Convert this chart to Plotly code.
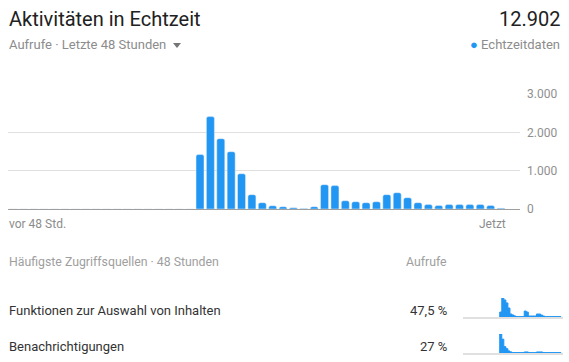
import plotly.graph_objects as go

# ---------------- data ----------------
hours = list(range(48))  # 48 hourly slots, oldest -> now
views = [0] * 18 + [1420, 2410, 1835, 1495, 920, 375, 165, 85, 60, 35, 15, 60,
                    635, 610, 215, 190, 165, 190, 375, 425, 295, 165, 115, 90,
                    115, 115, 115, 115, 90, 20]
total_label = "12.902"
y_ticks = [0, 1000, 2000, 3000]

source_names = ["Funktionen zur Auswahl von Inhalten", "Benachrichtigungen"]
source_shares = ["47,5 %", "27 %"]
spark_content = [0] * 18 + [300, 1150, 1030, 850, 545, 180, 120, 60, 20, 20, 20, 20,
                            360, 300, 60, 60, 60, 60, 180, 180, 120, 60, 20, 20,
                            20, 20, 20, 20, 20, 20]
spark_notif = [0] * 18 + [1100, 800, 370, 250, 120, 60, 20, 20, 20, 20, 20, 20,
                          60, 60, 20, 20, 20, 20, 60, 60, 60, 20, 20, 20,
                          20, 20, 20, 20, 20, 20]
sparks = [spark_content, spark_notif]

# ---------------- layout helpers ----------------
W, H = 569, 362
def fx(px): return px / W
def fy(py): return 1 - py / H

BLUE = "#2196f3"
FONT = "Roboto"

fig = go.Figure()

fig.add_trace(go.Bar(x=hours, y=views, width=0.77, marker=dict(color=BLUE, cornerradius=2),
                     xaxis="x", yaxis="y", hoverinfo="skip"))

spark_rows = [(317, 298), (353, 334)]
for i, (vals, (base, top)) in enumerate(zip(sparks, spark_rows)):
    k = i + 2
    fig.add_trace(go.Bar(x=hours, y=[v if v > 0 else None for v in vals], width=1,
                         marker=dict(color=BLUE, line=dict(color=BLUE, width=1)),
                         xaxis=f"x{k}", yaxis=f"y{k}", hoverinfo="skip"))

layout = dict(
    width=W, height=H, margin=dict(l=0, r=0, t=0, b=0, pad=0, autoexpand=False),
    paper_bgcolor="white", plot_bgcolor="rgba(0,0,0,0)",
    showlegend=False, separators=",.",
    font=dict(family=FONT, color="#212121"),
    xaxis=dict(domain=[fx(8), fx(520)], range=[-0.5, 48.83], showgrid=False,
               showline=True, linecolor="#9e9e9e", linewidth=1, showticklabels=False,
               ticks="", zeroline=False, fixedrange=True),
    yaxis=dict(domain=[fy(209), fy(94)], range=[0, 3000], side="right",
               tickvals=y_ticks, tickformat=",d", showgrid=True, gridcolor="#e0e0e0",
               gridwidth=1, zeroline=False, showline=False, ticks="",
               ticklabelstandoff=6, tickfont=dict(size=12, color="#8f8f8f", family=FONT),
               fixedrange=True),
)
for i, (base, top) in enumerate(spark_rows):
    k = i + 2
    layout[f"xaxis{k}"] = dict(domain=[fx(463), fx(563)], range=[-0.5, 48.5], anchor=f"y{k}",
                               showgrid=False, showline=True, linecolor="#e0e0e0", linewidth=1.5,
                               showticklabels=False, ticks="", zeroline=False, layer="below traces",
                               fixedrange=True)
    layout[f"yaxis{k}"] = dict(domain=[fy(base), fy(top)], range=[0, max(sparks[i])],
                               anchor=f"x{k}", showgrid=False, showline=False,
                               showticklabels=False, ticks="", zeroline=False, fixedrange=True)
fig.update_layout(**layout)

def ann(text, x, y, size, color, anchor="left"):
    fig.add_annotation(text=text, x=fx(x), y=fy(y), xref="paper", yref="paper",
                       xanchor=anchor, yanchor="middle", showarrow=False,
                       font=dict(size=size, color=color, family=FONT))

GRAY = "#8c8c8c"
ann("Aktivitäten in Echtzeit", 7, 19, 20, "#212121")
ann(total_label, 562, 19, 20, "#212121", "right")
ann("Aufrufe · Letzte 48 Stunden", 7, 45, 13, GRAY)
ann(f"<span style='color:{BLUE}'>●</span> Echtzeitdaten", 562, 45, 13, GRAY, "right")
ann("vor 48 Std.", 7, 224, 12, GRAY)
ann("Jetzt", 508, 224, 12, GRAY, "right")
ann("Häufigste Zugriffsquellen · 48 Stunden", 7, 262, 12.3, "#9e9e9e")
ann("Aufrufe", 449, 262, 12.3, "#9e9e9e", "right")
for (name, share), (base, top) in zip(zip(source_names, source_shares), spark_rows):
    ann(name, 7, base - 7, 13, "#333333")
    ann(share, 449, base - 7, 13, "#333333", "right")

# dropdown triangle
fig.add_shape(type="path", xref="paper", yref="paper",
              path=f"M {fx(173)} {fy(43)} L {fx(181)} {fy(43)} L {fx(177)} {fy(48)} Z",
              fillcolor="#757575", line=dict(width=0))

fig.write_html("out.html", config={"displayModeBar": False},
               post_script="document.body.style.margin='0';")
